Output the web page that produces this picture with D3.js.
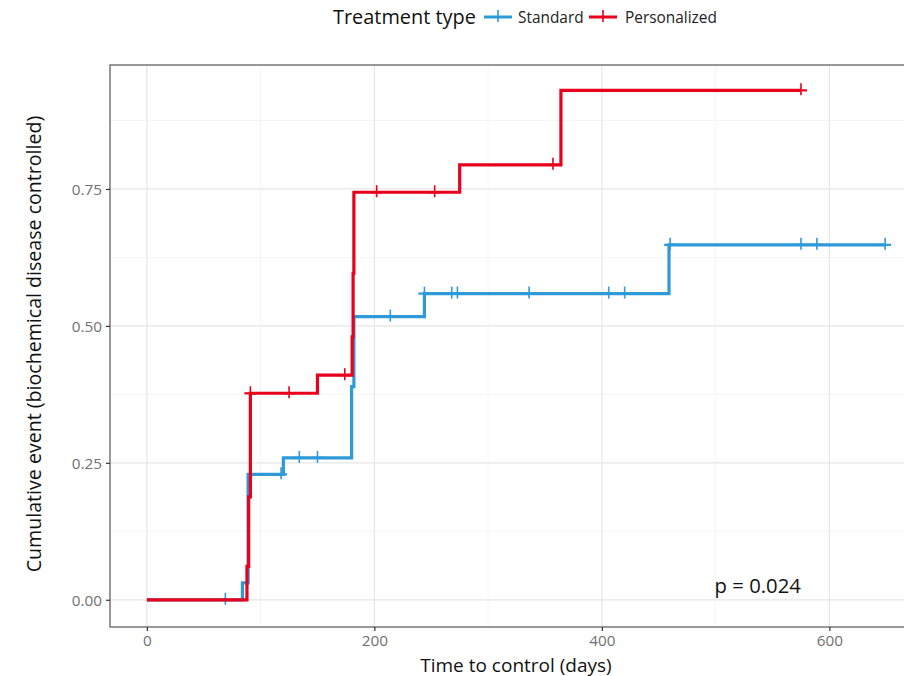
<!DOCTYPE html>
<html><head><meta charset="utf-8">
<script src="https://cdn.jsdelivr.net/npm/d3@7"></script>
<style>body{margin:0;background:#fff}svg{display:block}</style>
</head><body>
<svg id="c" width="904" height="676"></svg>
<script>
// Data
const seriesNames = ["Standard", "Personalized"];
const seriesColors = ["#2e9ad8", "#e8001c"];
const stdTimes   = [0, 84, 89, 120, 180, 182, 244, 459];
const stdValues  = [0, 0.031, 0.229, 0.259, 0.389, 0.517, 0.559, 0.648];
const stdCensor  = [69, 118, 134, 150, 214, 244, 268, 273, 336, 406, 420, 460, 575, 589, 649];
const stdEnd     = 649;
const perTimes   = [0, 88, 89.5, 91, 150, 180.5, 181.3, 182, 275, 364];
const perValues  = [0, 0.061, 0.188, 0.377, 0.41, 0.48, 0.596, 0.744, 0.794, 0.930];
const perCensor  = [91, 125, 174, 202, 253, 357, 575];
const perEnd     = 575;
const xTicks = [0, 200, 400, 600];
const yTicks = [0, 0.25, 0.5, 0.75];
const xMinor = [100, 300, 500];
const yMinor = [0.125, 0.375, 0.625, 0.875];
const pText = "p = 0.024";

const font = "'Open Sans', 'Liberation Sans', Arial, sans-serif";
const svg = d3.select("#c");
const L = 110, R = 922, T = 65, B = 627;
const x = d3.scaleLinear().domain([-32.4, 681.4]).range([L, R]);
const y = d3.scaleLinear().domain([-0.0497, 0.9763]).range([B, T]);

svg.append("defs").append("clipPath").attr("id","clip")
  .append("rect").attr("x",L).attr("y",T).attr("width",R-L).attr("height",B-T);

const g = svg.append("g");
// grid
g.selectAll(".gmx").data(xMinor).join("line").attr("x1",d=>x(d)).attr("x2",d=>x(d)).attr("y1",T).attr("y2",B)
  .attr("stroke","#f2f2f2").attr("stroke-width",0.8);
g.selectAll(".gmy").data(yMinor).join("line").attr("y1",d=>y(d)).attr("y2",d=>y(d)).attr("x1",L).attr("x2",R)
  .attr("stroke","#f2f2f2").attr("stroke-width",0.8);
g.selectAll(".gx").data(xTicks).join("line").attr("x1",d=>x(d)).attr("x2",d=>x(d)).attr("y1",T).attr("y2",B)
  .attr("stroke","#e6e6e6").attr("stroke-width",1.2);
g.selectAll(".gy").data(yTicks).join("line").attr("y1",d=>y(d)).attr("y2",d=>y(d)).attr("x1",L).attr("x2",R)
  .attr("stroke","#e6e6e6").attr("stroke-width",1.2);

// curves
function stepPts(times, vals, end){
  const pts = times.map((t,i)=>[t, vals[i]]);
  pts.push([end, vals[vals.length-1]]);
  return pts;
}
function valAt(times, vals, t){
  let v = vals[0];
  for (let i=0;i<times.length;i++) if (times[i] <= t) v = vals[i];
  return v;
}
const line = d3.line().x(d=>x(d[0])).y(d=>y(d[1])).curve(d3.curveStepAfter);
const series = [
  {times: stdTimes, vals: stdValues, cens: stdCensor, end: stdEnd, color: seriesColors[0]},
  {times: perTimes, vals: perValues, cens: perCensor, end: perEnd, color: seriesColors[1]}
];
const pg = svg.append("g").attr("clip-path","url(#clip)");
series.forEach(s=>{
  pg.append("path").datum(stepPts(s.times, s.vals, s.end)).attr("d", line)
    .attr("fill","none").attr("stroke", s.color).attr("stroke-width",3.2);
  const cg = pg.append("g");
  s.cens.forEach(t=>{
    const cx = x(t), cy = y(valAt(s.times, s.vals, t));
    cg.append("line").attr("x1",cx-6).attr("x2",cx+6).attr("y1",cy).attr("y2",cy).attr("stroke",s.color).attr("stroke-width",2.2);
    cg.append("line").attr("x1",cx).attr("x2",cx).attr("y1",cy-7).attr("y2",cy+5).attr("stroke",s.color).attr("stroke-width",1.6);
  });
});

// panel border
svg.append("rect").attr("x",L).attr("y",T).attr("width",R-L).attr("height",B-T)
  .attr("fill","none").attr("stroke","#555").attr("stroke-width",1.2);

// axes
const xa = svg.append("g").attr("transform",`translate(0,${B})`)
  .call(d3.axisBottom(x).tickValues(xTicks).tickFormat(d3.format("d")).tickSize(4).tickPadding(4));
const ya = svg.append("g").attr("transform",`translate(${L},0)`)
  .call(d3.axisLeft(y).tickValues(yTicks).tickFormat(d3.format(".2f")).tickSize(4).tickPadding(4));
[xa, ya].forEach(a=>{
  a.select(".domain").remove();
  a.selectAll(".tick line").attr("stroke","#333").attr("stroke-width",1.2);
  a.selectAll(".tick text").attr("fill","#707070").attr("font-size",15.3).attr("font-family",font);
});
xa.selectAll(".tick text").attr("dy","0.72em");
ya.selectAll(".tick text").attr("dy","0.35em");

// titles
svg.append("text").attr("x",516).attr("y",671.5).attr("text-anchor","middle")
  .attr("font-family",font).attr("font-size",19).attr("fill","#111").text("Time to control (days)");
svg.append("text").attr("transform","translate(41,344) rotate(-90)").attr("text-anchor","middle")
  .attr("font-family",font).attr("font-size",19.6).attr("fill","#111")
  .text("Cumulative event (biochemical disease controlled)");

// p value
svg.append("text").attr("x",x(537)).attr("y",y(0.013)).attr("text-anchor","middle")
  .attr("font-family",font).attr("font-size",20.3).attr("fill","#111").text(pText);

// legend
const lg = svg.append("g");
lg.append("text").attr("x",333).attr("y",24).attr("font-family",font).attr("font-size",19.9).attr("fill","#111").text("Treatment type");
const keyX = [484, 589], labX = [518, 625];
seriesNames.forEach((n,i)=>{
  const c = seriesColors[i];
  lg.append("line").attr("x1",keyX[i]).attr("x2",keyX[i]+28).attr("y1",17).attr("y2",17).attr("stroke",c).attr("stroke-width",3);
  lg.append("line").attr("x1",keyX[i]+7).attr("x2",keyX[i]+21).attr("y1",17).attr("y2",17).attr("stroke",c).attr("stroke-width",2);
  lg.append("line").attr("x1",keyX[i]+14).attr("x2",keyX[i]+14).attr("y1",10).attr("y2",22).attr("stroke",c).attr("stroke-width",1.6);
  lg.append("text").attr("x",labX[i]).attr("y",22.5).attr("font-family",font).attr("font-size",15.4).attr("fill","#222").text(n);
});
</script>
</body></html>
